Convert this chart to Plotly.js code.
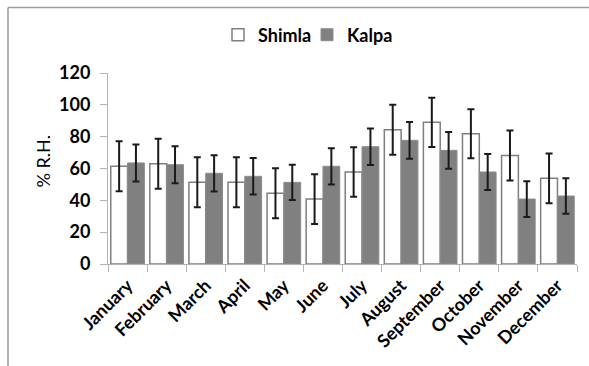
<!DOCTYPE html>
<html>
<head>
<meta charset="utf-8">
<script src="https://cdn.plot.ly/plotly-3.0.1.min.js"></script>
<style>
  html, body { margin: 0; padding: 0; background: #ffffff; }
  #chart { width: 589px; height: 366px; }
</style>
</head>
<body>
<div id="chart"></div>
<script>
const months = ["January", "February", "March", "April", "May", "June",
                "July", "August", "September", "October", "November", "December"];
const shimla    = [61.4, 63.0, 51.3, 51.3, 44.4, 40.8, 57.8, 84.4, 89.0, 81.9, 68.1, 53.8];
const shimlaErr = [15.7, 15.7, 15.7, 15.7, 15.7, 15.6, 15.6, 15.7, 15.5, 15.4, 15.7, 15.7];
const kalpa     = [63.5, 62.4, 57.0, 55.1, 51.3, 61.4, 73.7, 77.7, 71.4, 57.8, 40.8, 42.7];
const kalpaErr  = [11.6, 11.6, 11.4, 11.5, 11.1, 11.4, 11.5, 11.5, 11.5, 11.3, 11.2, 11.2];
const yTicks = [0, 20, 40, 60, 80, 100, 120];
const yTitle = "% R.H.";

const FONT = "Lato, Carlito, Calibri, 'DejaVu Sans', sans-serif";
const AXIS_GRAY = "#b3b3b3";

const traces = [
  {
    type: "bar", name: "Shimla", x: months, y: shimla,
    marker: { color: "#ffffff", line: { color: "#7f7f7f", width: 1.5 } },
    error_y: { type: "data", array: shimlaErr, visible: true, color: "#1a1a1a", thickness: 2, width: 3.5 }
  },
  {
    type: "bar", name: "Kalpa", x: months, y: kalpa,
    marker: { color: "#808080", line: { color: "#8c8c8c", width: 1 } },
    error_y: { type: "data", array: kalpaErr, visible: true, color: "#1a1a1a", thickness: 2, width: 3.5 }
  }
];

const L = 108, R = 12, T = 73, B = 102, W = 589, H = 366;
const pw = W - L - R, ph = H - T - B;
const px = v => (v - L) / pw;
const py = v => (H - B - v) / ph;

const layout = {
  width: W, height: H,
  margin: { l: L, r: R, t: T, b: B, pad: 0 },
  paper_bgcolor: "#ffffff", plot_bgcolor: "#ffffff",
  font: { family: FONT, color: "#000000", size: 18 },
  barmode: "group", bargap: 0.14, bargroupgap: 0,
  showlegend: true,
  legend: {
    orientation: "h", x: px(307), xanchor: "center", y: py(35), yanchor: "middle",
    entrywidth: 44,
    font: { family: FONT, size: 18, weight: "bold", color: "#000000" },
    bgcolor: "rgba(0,0,0,0)", itemclick: false, tracegroupgap: 0
  },
  xaxis: {
    type: "category", tickangle: -45,
    tickfont: { family: FONT, size: 18, weight: "bold", color: "#000000" },
    ticklabelstandoff: 3,
    showline: true, linecolor: AXIS_GRAY, linewidth: 1,
    ticks: "outside", tickson: "boundaries", ticklen: 7, tickcolor: AXIS_GRAY, tickwidth: 1,
    showgrid: false, zeroline: false, fixedrange: true
  },
  yaxis: {
    range: [0, 120], tickvals: yTicks, ticktext: yTicks.map(String),
    tickfont: { family: FONT, size: 18, weight: "bold", color: "#000000" },
    showline: true, linecolor: AXIS_GRAY, linewidth: 1,
    ticks: "outside", ticklen: 7, tickcolor: AXIS_GRAY, tickwidth: 1,
    ticklabelstandoff: 6,
    showgrid: false, zeroline: false, fixedrange: true
  },
  annotations: [
    { text: yTitle, textangle: -90, xref: "paper", yref: "paper",
      x: px(42.5), y: py(161), xanchor: "center", yanchor: "middle", showarrow: false,
      font: { family: FONT, size: 18, color: "#000000" } }
  ],
  shapes: [
    { type: "line", xref: "paper", yref: "paper", x0: px(8), x1: px(W + 2), y0: py(7.5), y1: py(7.5),
      line: { color: "#9a9a9a", width: 1.5 } },
    { type: "line", xref: "paper", yref: "paper", x0: px(8), x1: px(8), y0: py(7.5), y1: py(H + 2),
      line: { color: "#9a9a9a", width: 1.5 } }
  ]
};

Plotly.newPlot("chart", traces, layout, { displayModeBar: false, staticPlot: true });
</script>
</body>
</html>
